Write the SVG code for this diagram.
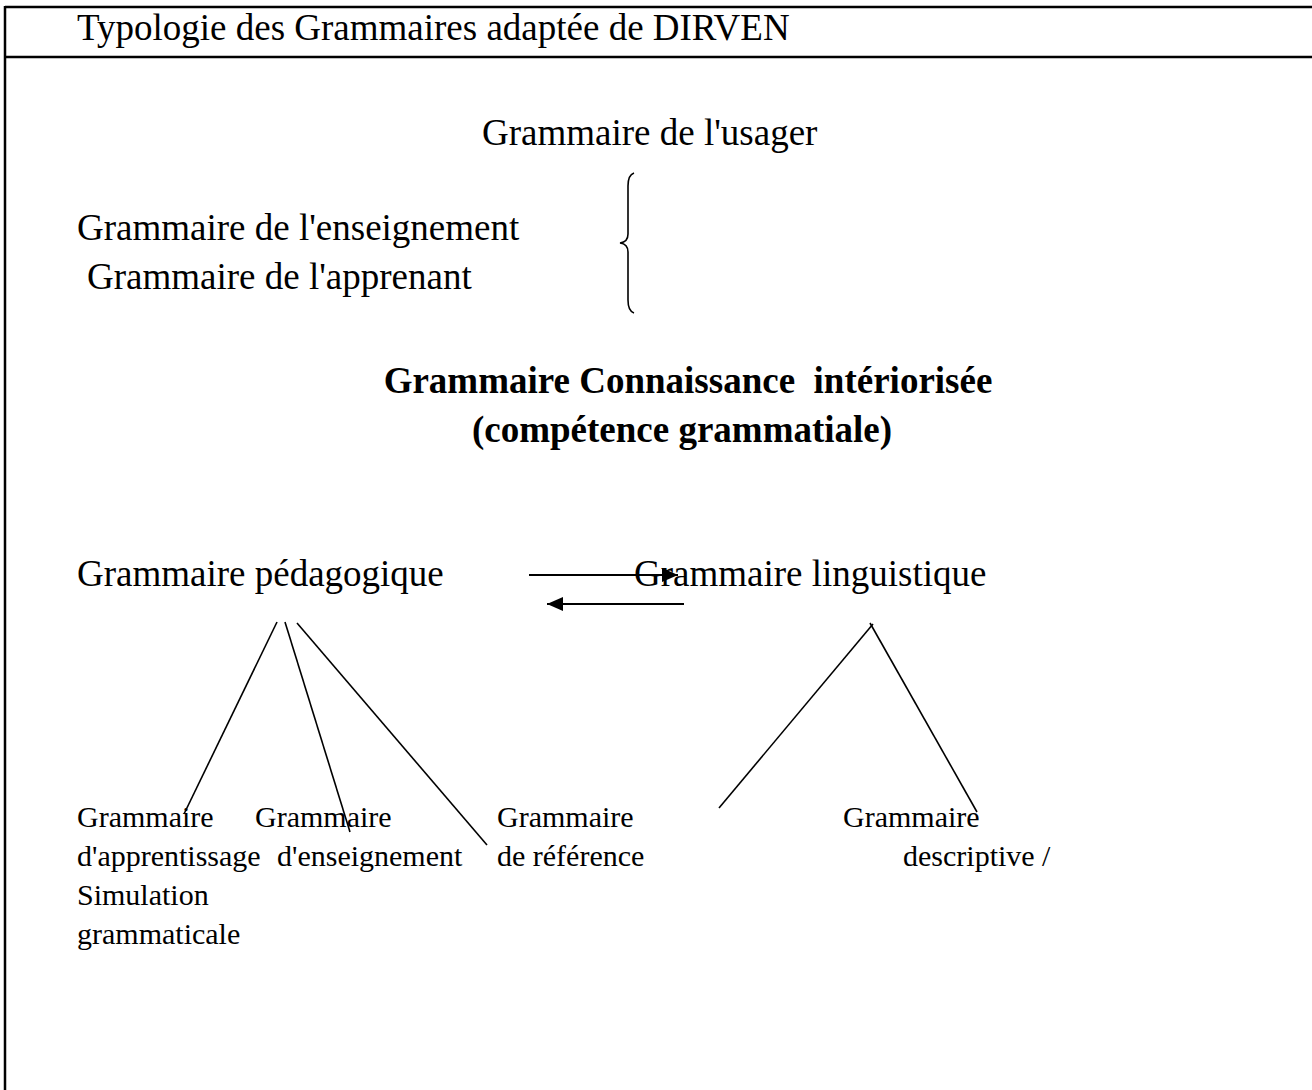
<svg xmlns="http://www.w3.org/2000/svg" width="1312" height="1090" viewBox="0 0 1312 1090">
<defs>
<style>
text{font-family:"Liberation Serif","Times New Roman",serif;fill:#000;white-space:pre}
.big{font-size:37px}
.bold{font-size:37px;font-weight:bold}
.small{font-size:30px}
.ln{stroke:#000;stroke-width:1.6;fill:none}
.arr{stroke:#000;stroke-width:2;fill:none}
.frame{stroke:#000;stroke-width:2.5;fill:none}
</style>
<marker id="ah" viewBox="0 0 16 14" refX="16" refY="7" markerWidth="16" markerHeight="14" markerUnits="userSpaceOnUse" orient="auto">
<path d="M0,0 L16,7 L0,14 Z" fill="#000"/>
</marker>
</defs>
<rect width="1312" height="1090" fill="#fff"/>
<g id="frame">
<line class="frame" x1="5" y1="7" x2="1312" y2="7"/>
<line class="frame" x1="5" y1="57" x2="1312" y2="57"/>
<line class="frame" x1="5" y1="6" x2="5" y2="1090"/>
</g>
<g id="title"><text class="big" x="77" y="40">Typologie des Grammaires adaptée de DIRVEN</text></g>
<g id="usager"><text class="big" x="482" y="145">Grammaire de l'usager</text></g>
<g id="enseignement"><text class="big" x="77" y="240">Grammaire de l'enseignement</text></g>
<g id="apprenant"><text class="big" x="87" y="289">Grammaire de l'apprenant</text></g>
<g id="brace"><path class="ln" d="M634,173 Q628,175 628,186 L628,234 Q628,242 620,243 Q628,244 628,252 L628,300 Q628,311 634,313"/></g>
<g id="connaissance">
<text class="bold" x="688" y="393" text-anchor="middle">Grammaire Connaissance  intériorisée</text>
<text class="bold" x="682" y="442" text-anchor="middle">(compétence grammatiale)</text>
</g>
<g id="pedagogique"><text class="big" x="77" y="586">Grammaire pédagogique</text></g>
<g id="linguistique"><text class="big" x="634" y="586">Grammaire linguistique</text></g>
<g id="apprentissage"><text class="small" x="77" y="827">Grammaire</text><text class="small" x="77" y="866">d'apprentissage</text><text class="small" x="77" y="905">Simulation</text><text class="small" x="77" y="944">grammaticale</text></g>
<g id="enseignement2"><text class="small" x="255" y="827">Grammaire</text><text class="small" x="277" y="866">d'enseignement</text></g>
<g id="reference"><text class="small" x="497" y="827">Grammaire</text><text class="small" x="497" y="866">de référence</text></g>
<g id="descriptive"><text class="small" x="843" y="827">Grammaire</text><text class="small" x="903" y="866">descriptive /</text></g>
<g id="connectors">
<line class="arr" x1="529" y1="575" x2="678" y2="575" marker-end="url(#ah)"/>
<line class="arr" x1="684" y1="604" x2="547" y2="604" marker-end="url(#ah)"/>
<line class="ln" x1="277" y1="622" x2="184" y2="814"/>
<line class="ln" x1="285" y1="622" x2="350" y2="832"/>
<line class="ln" x1="297" y1="623" x2="487" y2="845"/>
<line class="ln" x1="873" y1="624" x2="719" y2="808"/>
<line class="ln" x1="870" y1="623" x2="977" y2="812"/>
</g>
</svg>
